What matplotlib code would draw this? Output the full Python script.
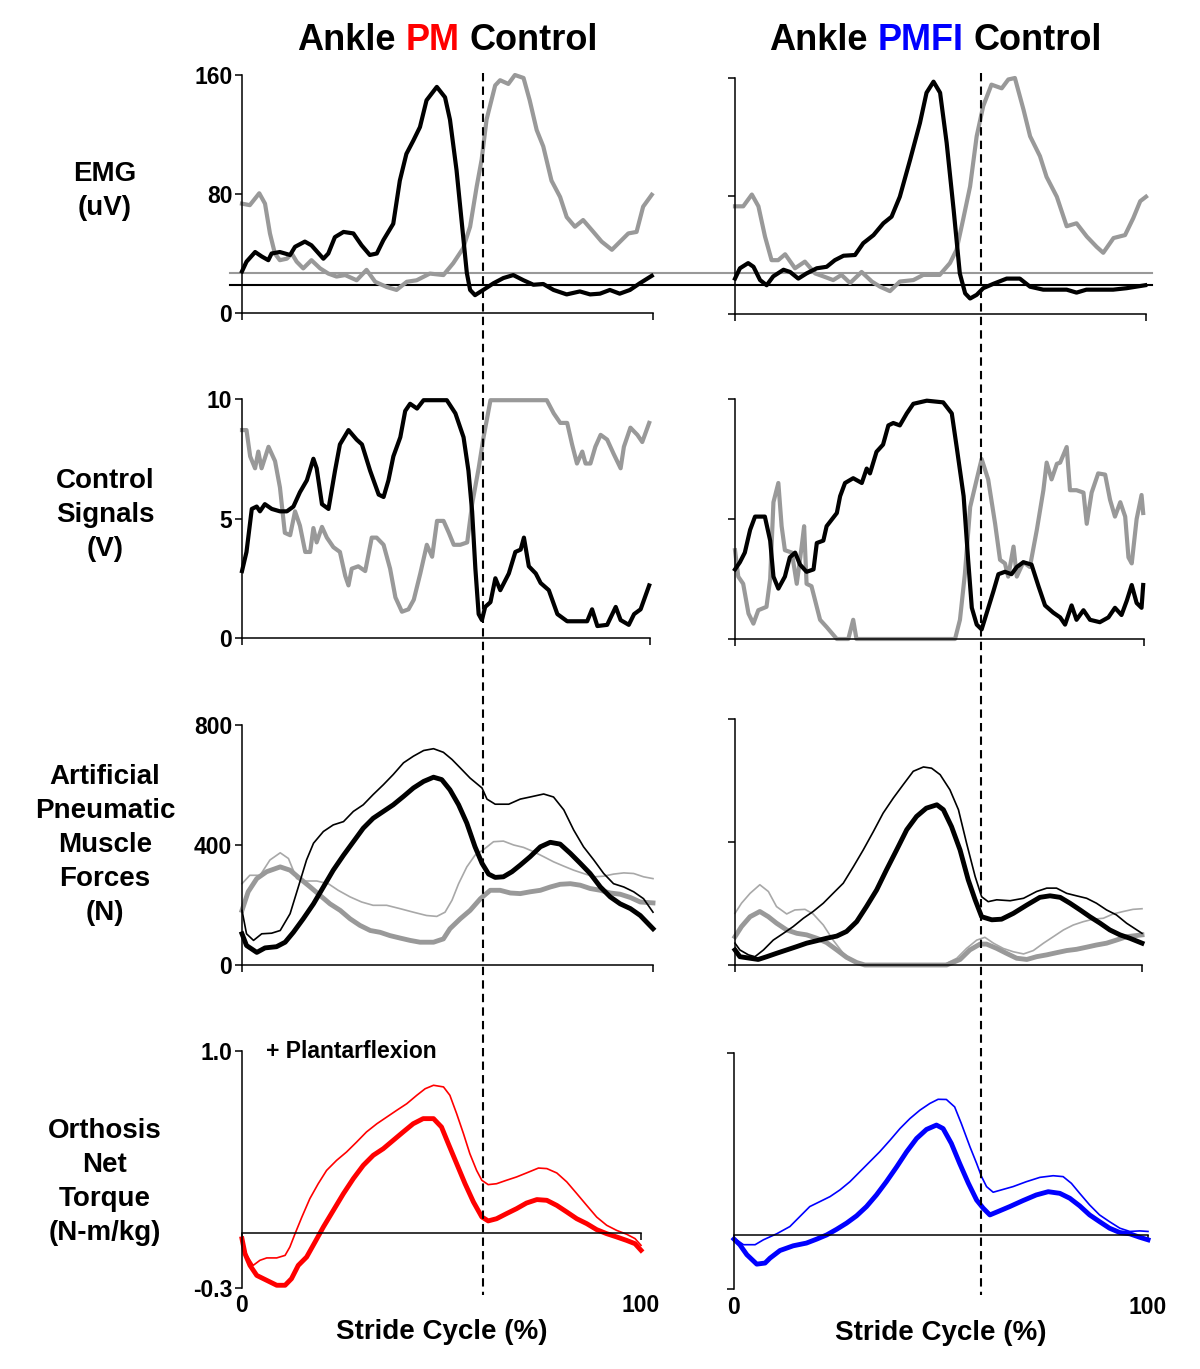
import matplotlib
matplotlib.use('Agg')
import matplotlib.pyplot as plt
import matplotlib.transforms as mtransforms
from matplotlib.lines import Line2D

W, H = 1200, 1369
plt.rcParams['font.family'] = ['Liberation Sans', 'DejaVu Sans']
plt.rcParams['font.weight'] = 'bold'
plt.rcParams['axes.labelweight'] = 'bold'

GRAY = '#999999'
LIGHT_GRAY = '#a8a8a8'
RED = '#ff0000'
BLUE = '#0000ff'

# stride % where the dashed line sits (PM, PMFI)
TOE_OFF = [58.6, 59.8]
# EMG threshold levels (uV)
EMG_THRESH_GRAY = 27
EMG_THRESH_BLACK = 19

# ---- EMG (uV), (stride %, value) ----
emg_pm_black = [(0, 28), (1.1, 34.5), (3.2, 41), (4.8, 38), (6.4, 35.5), (7.2, 40), (9.2, 41),
                (11.7, 39), (12.9, 44.5), (15.3, 48), (16.9, 45.5), (19.8, 36.5), (21, 40),
                (22.6, 51), (24.7, 54.5), (27.1, 53.5), (29.1, 45.5), (31.1, 39), (32.8, 40),
                (34.4, 49), (36.8, 60), (38.4, 89), (40, 107), (41.7, 116), (43.3, 125),
                (44.9, 143), (47.4, 152), (49.4, 145), (50.6, 130), (52.2, 96), (53.9, 49),
                (54.7, 27), (55.5, 15.5), (56.7, 12), (58.7, 15.5), (61.2, 20), (63.6, 23.5),
                (66, 25.5), (68.5, 22), (70.9, 19), (73.3, 19.5), (75.8, 15.5), (79, 12.5),
                (82.2, 14.5), (84.7, 12.5), (87.1, 13), (89.5, 15.5), (91.9, 13), (94.4, 15.5),
                (96.8, 20), (99.7, 25)]
emg_pm_gray = [(0, 73.5), (1.9, 72.5), (4.2, 80.5), (5.6, 73.5), (6.8, 53.5), (8, 40), (9.2, 35.5),
               (10.9, 36.5), (12.1, 40), (13.3, 34.5), (14.9, 30), (16.9, 35.5), (19, 30),
               (21, 26.5), (23, 24.5), (25.1, 25.5), (27.9, 22), (30.3, 29), (32.4, 21),
               (35.2, 17.5), (37.6, 15.5), (40.1, 21), (42.5, 22), (45.7, 26.5), (49, 25.5),
               (51.4, 33.5), (53.8, 43.5), (55.5, 58), (57.1, 85), (58.3, 103), (59.5, 130),
               (61.6, 153), (62.8, 156.5), (64.8, 154), (66.4, 160), (68.5, 158), (70, 143),
               (71.7, 123), (73.3, 112), (75.3, 89), (77.4, 78), (79, 64.5), (81, 58), (83, 62.5),
               (85.5, 54.5), (87.5, 48), (90, 42.5), (92, 48), (94, 53.5), (96, 54.5),
               (97.6, 71.5), (99.7, 79.5)]
emg_pmfi_black = [(0, 24), (1.2, 31), (3.2, 34.5), (4.5, 32), (6.1, 23), (7.7, 19.5), (9.3, 25.5),
                  (11.8, 30), (13.4, 28.5), (15.4, 24), (17.4, 27.5), (19.9, 31), (22.3, 32),
                  (24.3, 36.5), (26.4, 39.5), (29.2, 40), (31.2, 48), (33.7, 53.5), (36.1, 61.5),
                  (38.1, 66), (40.1, 79.5), (42.6, 104.5), (45, 129.5), (46.6, 150), (48.3, 157.5),
                  (49.9, 150), (51.5, 116), (53.2, 70.5), (54.7, 27.5), (56, 14), (57.2, 10.5),
                  (58.8, 13), (60.4, 17.5), (62.9, 20.5), (66.1, 24), (69.3, 24), (71.8, 18.5),
                  (75, 16.5), (78.2, 16.5), (80.7, 16.5), (83.1, 14.5), (85.5, 16.5), (88.8, 16.5),
                  (92, 16.5), (95.3, 17.5), (99.8, 19.5)]
emg_pmfi_gray = [(0, 73), (2, 73), (4.1, 81), (5.7, 73), (7.3, 52.5), (8.9, 36.5), (10.5, 36.5),
                 (12.2, 40.5), (14.6, 31), (17, 35.5), (19.5, 27.5), (21.5, 25.5), (23.9, 23),
                 (25.9, 26.5), (28, 21), (30.8, 28.5), (33.3, 22), (35.3, 18.5), (37.7, 15.5),
                 (40.1, 22), (43.4, 23), (45.8, 26.5), (49.8, 26.5), (52.3, 34.5), (53.9, 43.5),
                 (55.5, 64), (57.2, 86.5), (58.8, 120.5), (60.4, 141), (62.4, 155.5), (64.9, 153),
                 (66.5, 159), (68.1, 160), (70.2, 138.5), (71.8, 120.5), (74.2, 107), (75.8, 93),
                 (78.3, 79.5), (80.7, 59.5), (83.1, 61.5), (85.6, 52.5), (88, 45.5), (89.6, 41.5),
                 (92.1, 51.5), (94.9, 53.5), (96.9, 65), (98.6, 76.5), (100, 79.5)]

# ---- Control signals (V) ----
ctrl_pm_black = [(0, 2.8), (1.1, 3.6), (2.4, 5.4), (3.6, 5.5), (4.4, 5.3), (5.6, 5.6), (7.3, 5.4),
                 (9.3, 5.3), (11, 5.3), (12.6, 5.5), (14.2, 6.1), (15.9, 6.6), (17.5, 7.5),
                 (18.3, 7.1), (19.6, 5.6), (21.2, 5.4), (22.8, 7.0), (24, 8.1), (26.1, 8.7),
                 (28.1, 8.3), (29.4, 8.1), (31.4, 7.0), (33.5, 6.0), (34.7, 5.9), (35.9, 6.6),
                 (37.1, 7.6), (38.8, 8.4), (40, 9.5), (41.2, 9.8), (42.9, 9.6), (44.5, 9.95),
                 (50.2, 9.95), (52.3, 9.4), (54.3, 8.4), (55.5, 7.0), (56.4, 5.3), (57.2, 2.9),
                 (58, 1.0), (58.8, 0.75), (59.6, 1.3), (60.9, 1.5), (62.1, 2.5), (63.3, 2.0),
                 (65.4, 2.7), (67, 3.6), (68.3, 3.7), (69.1, 4.2), (70.3, 3.0), (72, 2.7),
                 (73.2, 2.3), (75.2, 2.0), (77.3, 1.0), (79.7, 0.7), (83, 0.7), (84.6, 0.7),
                 (85.8, 1.2), (87.1, 0.5), (89.5, 0.55), (91.6, 1.3), (92.8, 0.75), (94.8, 0.55),
                 (96.1, 1.0), (97.7, 1.2), (99.8, 2.2)]
ctrl_pm_gray = [(0, 8.7), (1.1, 8.7), (2, 7.6), (3.2, 7.1), (4, 7.8), (4.8, 7.1), (6.5, 8.0),
                (8.1, 7.4), (9.3, 6.3), (10.5, 4.4), (11.8, 4.3), (13, 5.3), (14.2, 4.7),
                (15.5, 3.6), (16.7, 3.6), (17.5, 4.6), (18.3, 4.0), (19.6, 4.65), (20.8, 4.2),
                (22.4, 3.8), (24, 3.6), (25.3, 2.6), (26.1, 2.2), (26.9, 2.9), (28.5, 3.0),
                (30.2, 2.8), (31.8, 4.2), (33, 4.2), (34.7, 3.9), (36.3, 2.9), (37.6, 1.7),
                (39.2, 1.1), (40.8, 1.2), (42.1, 1.6), (43.7, 2.7), (45.3, 3.9), (46.6, 3.4),
                (47.8, 4.9), (49.4, 4.9), (50.7, 4.4), (51.9, 3.9), (53.5, 3.9), (55.2, 4.0),
                (56.4, 5.6), (58, 7.1), (59.2, 8.4), (60.9, 9.95), (66.6, 9.95), (74.7, 9.95),
                (76.4, 9.4), (78, 9.0), (79.7, 9.0), (80.9, 8.1), (82.1, 7.3), (83.4, 7.8),
                (84.2, 7.3), (85.4, 7.3), (86.6, 8.0), (87.9, 8.5), (89.5, 8.3), (91.1, 7.7),
                (92.8, 7.1), (93.6, 8.0), (95.2, 8.8), (96.9, 8.5), (98.1, 8.2), (99.8, 9.0)]
ctrl_pmfi_black = [(0, 2.9), (1.2, 3.2), (2.4, 3.6), (3.7, 4.55), (4.9, 5.1), (7.3, 5.1), (8.6, 4.1),
                   (9.4, 2.6), (10.6, 2.1), (12.2, 2.6), (13.4, 3.4), (14.7, 3.6), (15.9, 3.1),
                   (17.5, 2.8), (19.2, 2.9), (20, 4.0), (21.6, 4.1), (22.4, 4.7), (24.9, 5.25),
                   (25.7, 5.95), (26.9, 6.5), (28.9, 6.7), (31, 6.5), (32.2, 7.1), (33, 6.9),
                   (34.6, 7.8), (36.2, 8.1), (37.5, 8.9), (38.7, 9.0), (40.3, 8.9), (42, 9.4),
                   (43.6, 9.8), (46.9, 9.93), (50.9, 9.86), (53, 9.4), (54.2, 8.0), (55.9, 5.95),
                   (57, 3.3), (57.9, 1.3), (59.1, 0.6), (60.3, 0.4), (61.5, 1.06), (63.2, 2.0),
                   (64.4, 2.7), (66, 2.8), (67.6, 2.7), (68.9, 3.0), (70.5, 3.2), (72.5, 3.1),
                   (74.2, 2.2), (75.8, 1.4), (77.8, 1.1), (79.5, 0.9), (80.7, 0.6), (82.3, 1.4),
                   (83.5, 0.8), (85.2, 1.2), (86.8, 0.8), (89.2, 0.7), (91.3, 0.9), (92.9, 1.3),
                   (94.5, 1.0), (95.8, 1.6), (97, 2.25), (98.2, 1.5), (99.4, 1.3), (99.8, 2.25)]
ctrl_pmfi_gray = [(0, 3.7), (0.8, 2.6), (2, 2.3), (3.3, 1.06), (4.5, 0.64), (5.7, 1.2), (7.7, 1.34),
                  (8.6, 2.5), (9.4, 5.7), (10.6, 6.5), (11.4, 4.7), (12.2, 3.7), (13.9, 3.6),
                  (15.1, 2.3), (16.3, 3.85), (16.9, 4.7), (17.5, 2.3), (18.7, 2.2), (19.6, 1.6),
                  (20.8, 0.8), (22.4, 0.5), (24.9, 0), (27.7, 0), (28.9, 0.8), (29.7, 0),
                  (53.8, 0), (55, 0.8), (56.2, 2.7), (57.5, 5.5), (59.1, 6.65), (60.3, 7.5),
                  (61.9, 6.65), (63.6, 4.8), (64.8, 3.3), (66, 3.15), (66.8, 2.6), (68.1, 3.85),
                  (68.9, 2.6), (70.5, 3.2), (72.1, 3.0), (73.8, 4.55), (75.4, 6.2), (76.2, 7.35),
                  (77.4, 6.65), (78.7, 7.3), (79.5, 7.35), (81.1, 8.0), (81.9, 6.2), (83.5, 6.2),
                  (85.2, 6.1), (86, 4.8), (87.2, 6.1), (88.8, 6.9), (90.5, 6.85), (91.7, 5.8),
                  (92.9, 5.1), (94.2, 5.7), (95.4, 5.1), (96.2, 3.4), (97, 3.15), (98.2, 5.0),
                  (99.4, 6.0), (99.8, 5.25)]

# ---- Artificial pneumatic muscle forces (N) ----
force_pm_thin_black = [(0, 182), (1.1, 104), (2.8, 82), (4.8, 104), (7.2, 106), (9.3, 115), (11.7, 171),
                       (13.7, 260), (15.7, 350), (17.4, 406), (19.8, 445), (22.2, 467), (24.7, 478),
                       (27.1, 512), (29.5, 534), (31.9, 568), (34.4, 601), (36.8, 635), (39.3, 674),
                       (41.7, 696), (44.2, 715), (46.6, 721), (49, 709), (51.1, 685), (53.1, 657),
                       (55.5, 623), (58.4, 590), (59.6, 553), (61.6, 536), (64.9, 536), (67.7, 553),
                       (70.1, 560), (73.4, 570), (75.8, 560), (78.3, 517), (80.7, 450), (83.1, 394),
                       (85.6, 350), (88, 305), (90.4, 271), (92.9, 260), (95.3, 244), (97.7, 221),
                       (100, 176)]
force_pm_thick_black = [(0, 104), (1.1, 65), (3.6, 42), (5.6, 57), (8.4, 61), (10.5, 76), (12.5, 109),
                        (14.9, 154), (17.4, 204), (19.8, 260), (22.2, 316), (24.7, 366), (27.1, 411),
                        (29.5, 456), (31.9, 489), (34.4, 512), (36.8, 534), (39.3, 562), (41.7, 590),
                        (44.2, 612), (46.6, 626), (48.6, 618), (50.6, 584), (52.7, 534), (54.7, 473),
                        (56.7, 394), (58.4, 339), (60, 303), (61.6, 292), (63.6, 294), (65.7, 311),
                        (67.7, 333), (70.1, 361), (72.6, 394), (75, 409), (77.4, 403), (79.9, 372),
                        (82.3, 339), (84.7, 305), (87.2, 260), (89.6, 227), (92, 204), (94.5, 188),
                        (96.9, 165), (100, 121)]
force_pm_thin_gray = [(0, 271), (1.9, 299), (4.4, 299), (6.8, 350), (9.3, 374), (11.3, 355), (13.3, 288),
                      (15.3, 280), (18.2, 280), (21, 271), (23.4, 249), (26.3, 227), (29.1, 210),
                      (31.9, 199), (35.2, 199), (38.4, 188), (41.7, 176), (44.9, 165), (47.4, 162),
                      (49.4, 176), (51.1, 216), (52.7, 271), (54.7, 327), (56.7, 366), (58.8, 385),
                      (61.2, 411), (63.6, 413), (66.1, 400), (68.5, 392), (70.9, 378), (73.4, 361),
                      (75.8, 344), (78.2, 330), (80.7, 316), (83.1, 305), (85.6, 294), (88, 296),
                      (90.4, 303), (92.9, 307), (95.3, 305), (97.7, 294), (100, 288)]
force_pm_thick_gray = [(0, 182), (1.5, 244), (3.6, 288), (6, 311), (9.3, 327), (11.7, 316), (14.1, 288),
                       (16.6, 260), (19, 232), (21.4, 204), (23.9, 182), (26.3, 154), (28.7, 132),
                       (31.2, 115), (33.6, 109), (36, 98), (38.4, 90), (40.9, 82), (43.3, 76),
                       (46.6, 76), (49, 87), (50.6, 121), (53.1, 154), (55.5, 182), (58, 221),
                       (60.4, 249), (62.8, 249), (65.3, 240), (67.7, 238), (70.1, 244), (72.6, 249),
                       (75, 260), (77.4, 269), (79.9, 271), (82.3, 266), (84.7, 255), (87.2, 249),
                       (89.6, 240), (92, 236), (94.5, 225), (96.9, 210), (100, 207)]
force_pmfi_thin_black = [(0, 71), (1.2, 49), (3.3, 33), (4.9, 27), (7, 49), (9.4, 81), (11.9, 103),
                         (14.3, 125), (16.8, 152), (19.2, 174), (21.7, 201), (24.1, 233), (26.6, 266),
                         (29.1, 320), (31.5, 374), (34, 434), (36.4, 494), (38.9, 543), (41.3, 586),
                         (43.8, 630), (46.3, 644), (48.3, 640), (50.4, 619), (52.8, 570), (54.9, 505),
                         (56.9, 396), (59, 288), (60.6, 222), (62.2, 206), (64.3, 212), (67.6, 209),
                         (70.9, 217), (74.1, 239), (76.6, 250), (79, 250), (81.5, 233), (83.9, 225),
                         (86.4, 217), (88.8, 201), (91.3, 179), (93.7, 163), (96.2, 136), (100, 103)]
force_pmfi_thick_black = [(0, 49), (1.2, 27), (3.7, 22), (5.7, 18), (7.8, 27), (10.2, 38), (12.7, 49),
                          (15.2, 60), (17.6, 71), (20.1, 79), (22.5, 87), (25, 94), (27.4, 109),
                          (29.9, 141), (32.3, 190), (34.8, 244), (37.2, 309), (39.7, 374), (42.2, 440),
                          (44.6, 483), (47, 510), (49.6, 521), (51.2, 505), (53.2, 450), (55.3, 374),
                          (57.3, 277), (59, 212), (60.6, 157), (63.1, 147), (65.5, 149), (68.4, 168),
                          (71.7, 195), (74.9, 220), (77.4, 225), (79.9, 220), (82.3, 201), (84.8, 179),
                          (87.2, 157), (89.7, 136), (92.1, 114), (94.6, 98), (97, 87), (100, 71)]
force_pmfi_thin_gray = [(0, 168), (1.6, 201), (3.7, 233), (6.1, 261), (8.2, 239), (10.2, 190), (12.7, 166),
                        (14.7, 179), (17.2, 181), (19.2, 166), (21.7, 130), (24.1, 81), (26.6, 38),
                        (29.1, 11), (31.1, 0), (51.2, 0), (54.5, 22), (56.9, 54), (59.4, 81), (61.4, 90),
                        (63.5, 71), (65.9, 54), (68.4, 43), (70.9, 36), (73.3, 47), (75.8, 71),
                        (78.2, 92), (80.7, 114), (83.1, 130), (85.6, 141), (88, 149), (90.5, 152),
                        (92.9, 166), (95.4, 174), (97.8, 181), (100, 183)]
force_pmfi_thick_gray = [(0, 92), (1.6, 125), (3.7, 157), (6.1, 174), (8.2, 157), (10.2, 136), (12.7, 114),
                         (15.2, 103), (17.6, 98), (20.1, 87), (22.5, 73), (25, 49), (27.4, 25),
                         (29.9, 8), (31.9, 0), (52, 0), (55.3, 18), (57.7, 49), (60.2, 68), (61.8, 68),
                         (64.3, 54), (66.7, 38), (69.2, 22), (71.7, 18), (74.1, 27), (76.6, 33), (79, 40),
                         (81.5, 47), (83.9, 51), (86.4, 58), (88.8, 65), (91.3, 71), (93.7, 81),
                         (96.2, 92), (100, 98)]

# ---- Orthosis net torque (N-m/kg) ----
torque_pm_thin = [(0, -0.04), (1.2, -0.12), (2.8, -0.176), (4.5, -0.148), (6.2, -0.135), (8.7, -0.135),
                  (10.8, -0.121), (12, -0.075), (13.3, -0.002), (15, 0.089), (17, 0.19), (19.1, 0.272),
                  (21.2, 0.345), (23.7, 0.4), (26.2, 0.446), (28.7, 0.5), (31.2, 0.556), (33.8, 0.601),
                  (36.3, 0.638), (38.8, 0.675), (41.3, 0.711), (43.8, 0.757), (45.9, 0.793), (48, 0.812),
                  (50.5, 0.803), (52.1, 0.757), (53.8, 0.656), (55.5, 0.547), (57.1, 0.437),
                  (58.8, 0.345), (60.1, 0.291), (61.7, 0.267), (63.8, 0.272), (66.3, 0.291),
                  (68.8, 0.309), (71.3, 0.331), (74.3, 0.358), (76.4, 0.355), (78.9, 0.331),
                  (81.4, 0.282), (83.9, 0.218), (86.4, 0.153), (88.9, 0.089), (91.4, 0.044),
                  (93.9, 0.016), (96.4, -0.005), (98.5, -0.029), (100, -0.066)]
torque_pm_thick = [(0, -0.03), (0.75, -0.112), (2, -0.176), (3.7, -0.231), (6.2, -0.258), (8.7, -0.285),
                   (10.8, -0.285), (12.4, -0.249), (14.1, -0.176), (16.2, -0.13), (18.3, -0.048),
                   (20.4, 0.035), (22.9, 0.126), (25.4, 0.217), (27.9, 0.3), (30.4, 0.373),
                   (32.9, 0.428), (35.4, 0.464), (37.9, 0.51), (40.4, 0.556), (42.9, 0.601),
                   (45.4, 0.629), (48, 0.629), (50, 0.583), (51.7, 0.492), (53.8, 0.382), (55.9, 0.272),
                   (58, 0.172), (60.1, 0.09), (61.7, 0.068), (63.8, 0.08), (66.3, 0.108), (68.8, 0.135),
                   (71.3, 0.166), (73.9, 0.185), (76.4, 0.181), (78.9, 0.153), (81.4, 0.117),
                   (83.9, 0.08), (86.4, 0.053), (88.9, 0.02), (91.4, -0.002), (93.9, -0.02),
                   (96.4, -0.039), (98.5, -0.057), (100, -0.093)]
torque_pmfi_thin = [(0, -0.02), (2.3, -0.056), (5.1, -0.056), (7.1, -0.029), (10.3, 0.004), (13.5, 0.044),
                    (15.9, 0.099), (18.3, 0.154), (20.8, 0.182), (23.2, 0.209), (25.6, 0.246),
                    (28, 0.291), (30.4, 0.346), (32.8, 0.401), (35.2, 0.456), (37.7, 0.52),
                    (40.1, 0.584), (42.5, 0.639), (44.9, 0.685), (47.3, 0.722), (49.3, 0.745),
                    (51.3, 0.744), (53.3, 0.703), (54.9, 0.612), (57, 0.483), (58.6, 0.392),
                    (59.8, 0.319), (61, 0.264), (62.6, 0.233), (64.6, 0.246), (67.4, 0.264),
                    (70.6, 0.291), (73.9, 0.315), (77.1, 0.324), (79.5, 0.319), (81.5, 0.282),
                    (83.5, 0.227), (85.9, 0.163), (88.3, 0.108), (90.7, 0.071), (93.2, 0.035),
                    (95.6, 0.017), (98, 0.02), (100, 0.017)]
torque_pmfi_thick = [(0, -0.025), (1.4, -0.056), (3.1, -0.111), (5.5, -0.163), (7.5, -0.157), (8.7, -0.13),
                     (11.1, -0.088), (14.3, -0.062), (17.5, -0.047), (20, -0.025), (22.4, -0.002),
                     (24.8, 0.029), (27.2, 0.063), (29.6, 0.103), (32, 0.154), (34.4, 0.218),
                     (36.8, 0.291), (39.3, 0.373), (41.7, 0.456), (44.1, 0.529), (46.5, 0.579),
                     (48.9, 0.603), (50.5, 0.584), (52.5, 0.502), (54.5, 0.392), (56.6, 0.283),
                     (58.6, 0.19), (60.2, 0.145), (61.8, 0.108), (63.8, 0.127), (66.6, 0.154),
                     (69.8, 0.187), (73, 0.218), (75.9, 0.236), (78.7, 0.227), (81.1, 0.2),
                     (83.5, 0.158), (85.9, 0.108), (88.3, 0.071), (90.7, 0.035), (93.2, 0.011),
                     (95.6, 0.004), (98, -0.015), (100, -0.029)]

row_labels = ['EMG\n(uV)', 'Control\nSignals\n(V)', 'Artificial\nPneumatic\nMuscle\nForces\n(N)',
              'Orthosis\nNet\nTorque\n(N-m/kg)']


fig = plt.figure(figsize=(W / 100, H / 100), dpi=100)


def add_px_axes(x0, x1, ytop, ybot):
    ax = fig.add_axes([x0 / W, 1 - ybot / H, (x1 - x0) / W, (ybot - ytop) / H])
    ax.patch.set_visible(False)
    return ax


def style(ax, ylim, yticks, ylabels, show_labels):
    ax.set_xlim(0, 100)
    ax.set_ylim(*ylim)
    for s in ['top', 'right']:
        ax.spines[s].set_visible(False)
    for s in ['left', 'bottom']:
        ax.spines[s].set_linewidth(1.1)
    ax.set_xticks([0, 100])
    ax.set_xticklabels([])
    ax.set_yticks(yticks)
    ax.set_yticklabels(ylabels if show_labels else [])
    ax.tick_params(direction='out', length=5, width=1.1, labelsize=16.5, pad=2)


def plot_pts(ax, pts, color, lw):
    xs, ys = zip(*pts)
    ax.plot(xs, ys, color=color, lw=lw, clip_on=False, solid_joinstyle='round')


# axes boxes in pixels
ax_emg = [add_px_axes(242, 653, 75, 313), add_px_axes(735, 1146, 78, 314)]
ax_ctrl = [add_px_axes(242, 650, 399, 638), add_px_axes(735, 1144, 399, 639)]
ax_force = [add_px_axes(242, 653, 725, 965), add_px_axes(735, 1142, 719, 965)]
ax_torque = [add_px_axes(242, 641, 1051, 1288), add_px_axes(734, 1148, 1053, 1289)]

for i in range(2):
    style(ax_emg[i], (0, 160), [0, 80, 160], ['0', '80', '160'], i == 0)
    style(ax_ctrl[i], (0, 10), [0, 5, 10], ['0', '5', '10'], i == 0)
    style(ax_force[i], (0, 800), [0, 400, 800], ['0', '400', '800'], i == 0)
    style(ax_torque[i], (-0.3, 1.0), [-0.3, 1.0], ['-0.3', '1.0'], i == 0)

    axt = ax_torque[i]
    axt.spines['bottom'].set_position(('data', 0))
    axt.set_xticklabels(['0', '100'])
    axt.tick_params(axis='x', pad=39)
    axt.set_xlabel('Stride Cycle (%)', fontsize=20, labelpad=1)

# EMG
plot_pts(ax_emg[0], emg_pm_gray, GRAY, 3.0)
plot_pts(ax_emg[0], emg_pm_black, 'black', 3.0)
plot_pts(ax_emg[1], emg_pmfi_gray, GRAY, 3.0)
plot_pts(ax_emg[1], emg_pmfi_black, 'black', 3.0)

# control signals
plot_pts(ax_ctrl[0], ctrl_pm_gray, GRAY, 3.0)
plot_pts(ax_ctrl[0], ctrl_pm_black, 'black', 3.0)
plot_pts(ax_ctrl[1], ctrl_pmfi_gray, GRAY, 3.0)
plot_pts(ax_ctrl[1], ctrl_pmfi_black, 'black', 3.0)

# forces
plot_pts(ax_force[0], force_pm_thin_gray, LIGHT_GRAY, 1.2)
plot_pts(ax_force[0], force_pm_thick_gray, GRAY, 3.5)
plot_pts(ax_force[0], force_pm_thin_black, 'black', 1.2)
plot_pts(ax_force[0], force_pm_thick_black, 'black', 3.5)
plot_pts(ax_force[1], force_pmfi_thin_gray, LIGHT_GRAY, 1.2)
plot_pts(ax_force[1], force_pmfi_thick_gray, GRAY, 3.5)
plot_pts(ax_force[1], force_pmfi_thin_black, 'black', 1.2)
plot_pts(ax_force[1], force_pmfi_thick_black, 'black', 3.5)

# torque
plot_pts(ax_torque[0], torque_pm_thin, RED, 1.2)
plot_pts(ax_torque[0], torque_pm_thick, RED, 3.5)
plot_pts(ax_torque[1], torque_pmfi_thin, BLUE, 1.2)
plot_pts(ax_torque[1], torque_pmfi_thick, BLUE, 3.5)

ax_torque[0].text(6, 1.0, '+ Plantarflexion', fontsize=16.5, ha='left', va='center')

# EMG thresholds run across both panels
tr = mtransforms.blended_transform_factory(fig.transFigure, ax_emg[0].transData)
for val, col in [(EMG_THRESH_GRAY, GRAY), (EMG_THRESH_BLACK, 'black')]:
    fig.add_artist(Line2D([230 / W, 1152 / W], [val, val], transform=tr, color=col, lw=1.5, zorder=-1))

# toe-off dashed lines through all rows
for ax, toe in zip(ax_emg, TOE_OFF):
    tr = mtransforms.blended_transform_factory(ax.transData, fig.transFigure)
    fig.add_artist(Line2D([toe, toe], [1 - 73 / H, 1 - 1295 / H], transform=tr, color='black',
                          lw=1.5, dashes=(4, 2.5)))

# row labels
for lab, yc in zip(row_labels, [191, 515, 845, 1182]):
    fig.text(105 / W, 1 - yc / H, lab, fontsize=20, ha='center', va='center',
             linespacing=1.4, multialignment='center')

# column titles with colored middle word
for x0, word, col in [(297, 'PM', RED), (769, 'PMFI', BLUE)]:
    t = fig.text(x0 / W, 1 - 40 / H, 'Ankle', fontsize=26, ha='left', va='center')
    for piece, c in [(word, col), ('Control', 'black')]:
        t = ax_emg[0].annotate(piece, xy=(1, 0), xycoords=t, xytext=(7.2, 0),
                               textcoords='offset points', ha='left', va='bottom',
                               fontsize=26, color=c, annotation_clip=False)

fig.savefig('out.png', dpi=100)
